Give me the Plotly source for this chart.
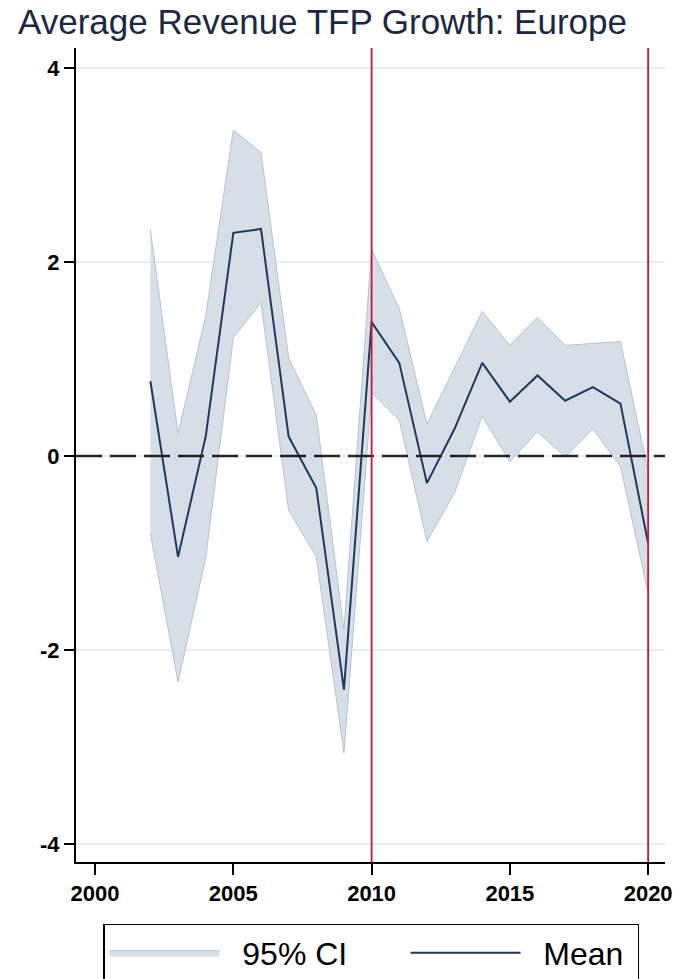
import plotly.graph_objects as go

years = list(range(2002, 2021))
mean = [0.77, -1.04, 0.20, 2.30, 2.34, 0.20, -0.33, -2.41, 1.38, 0.96,
        -0.28, 0.28, 0.96, 0.56, 0.83, 0.57, 0.71, 0.54, -0.90]
upper = [2.33, 0.23, 1.44, 3.36, 3.13, 1.01, 0.42, -1.79, 2.13, 1.52,
         0.33, 0.91, 1.49, 1.14, 1.43, 1.14, 1.16, 1.18, -0.16]
lower = [-0.80, -2.33, -1.05, 1.22, 1.58, -0.56, -1.04, -3.06, 0.65, 0.37,
         -0.88, -0.38, 0.41, -0.06, 0.25, -0.01, 0.28, -0.11, -1.41]
xticks = [2000, 2005, 2010, 2015, 2020]
yticks = [-4, -2, 0, 2, 4]
ytext = ["-4", "-2", "0", "2", "4"]
vlines = [2010, 2020]
ci_label = "95% CI"
mean_label = "Mean"

FONT = "Liberation Sans, Arial, sans-serif"
band_fill = "#d6dfe7"
band_edge = "#b4c3d1"
mean_col = "#1d3a5c"
red = "#c8163c"
NB = "\u00a0"

fig = go.Figure()
fig.add_trace(go.Scatter(x=years, y=lower, mode="lines",
                         line=dict(color=band_edge, width=1),
                         showlegend=False, hoverinfo="skip"))
fig.add_trace(go.Scatter(x=years, y=upper, mode="lines", fill="tonexty",
                         fillcolor=band_fill,
                         line=dict(color=band_edge, width=1),
                         name=NB * 2 + ci_label + NB * 6))
fig.add_trace(go.Scatter(x=years, y=mean, mode="lines",
                         line=dict(color=mean_col, width=2),
                         name=NB * 2 + mean_label + NB))

# zero reference line (dashed)
fig.add_hline(y=0, line=dict(color="#222222", width=2.5, dash="26px,8px"),
              layer="above")
for v in vlines:
    fig.add_vline(x=v, line=dict(color=red, width=1.8), layer="above")

W, H = 679, 979
fig.update_layout(
    width=W, height=H,
    margin=dict(l=76, r=14, t=48, b=117, autoexpand=False),
    paper_bgcolor="white", plot_bgcolor="white",
    font=dict(family=FONT, color="black"),
    title=dict(text="Average Revenue TFP Growth: Europe",
               font=dict(family=FONT, size=35, color="#1c2841"),
               x=18 / W, xanchor="left", xref="container",
               y=1 - 22 / H, yanchor="middle", yref="container"),
    xaxis=dict(range=[1999.31, 2020.61], tickvals=xticks,
               ticks="outside", ticklen=11, tickwidth=2, tickcolor="black",
               showline=True, linecolor="black", linewidth=2,
               showgrid=False, zeroline=False, automargin=False,
               tickfont=dict(family=FONT, size=22, color="black", weight="bold")),
    yaxis=dict(range=[-4.186, 4.206], tickvals=yticks, ticktext=ytext,
               ticks="outside", ticklen=10, tickwidth=2, tickcolor="black",
               showline=True, linecolor="black", linewidth=2,
               showgrid=True, gridcolor="#e6eff2", gridwidth=1.5,
               zeroline=False, automargin=False,
               tickfont=dict(family=FONT, size=22, color="black", weight="bold")),
    legend=dict(orientation="h", x=(103 - 76) / 589, xanchor="left",
                y=-0.076, yanchor="top", traceorder="normal",
                font=dict(family=FONT, size=32, color="black"),
                bordercolor="black", borderwidth=1.5,
                itemwidth=110, bgcolor="white"),
)

fig.write_html("out.html", config={"displayModeBar": False},
               post_script="document.body.style.margin='0';")
